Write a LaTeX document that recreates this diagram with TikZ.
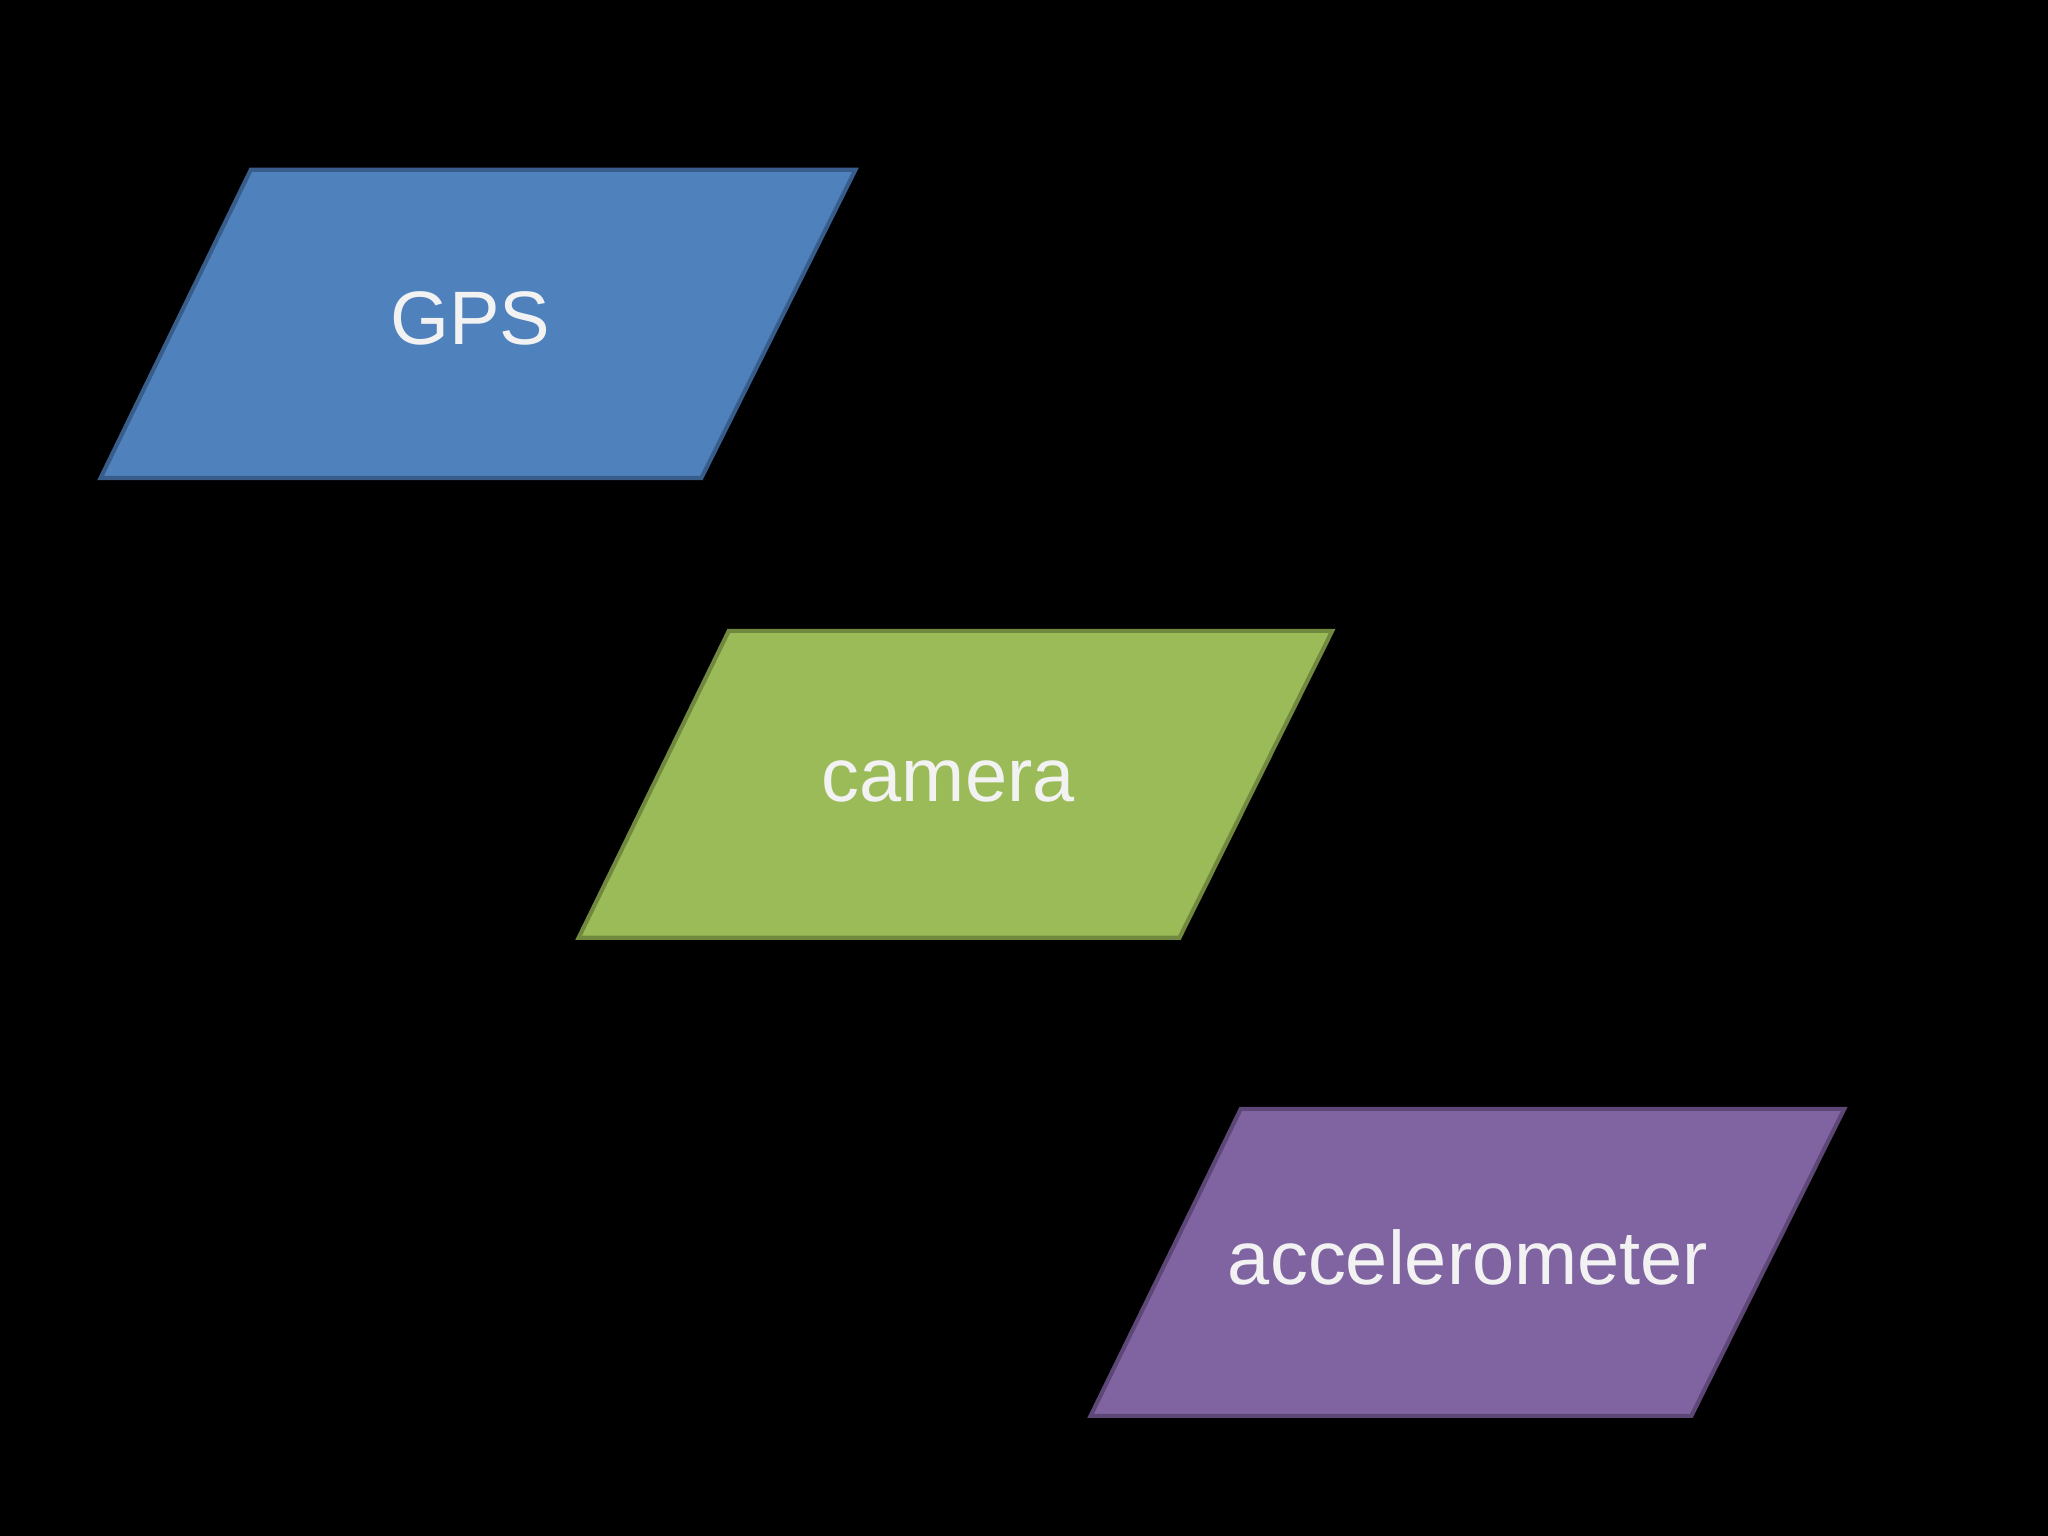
\documentclass[tikz,border=0pt]{standalone}
\usepackage{fontspec}
\setmainfont{Liberation Sans}
\definecolor{gpsfill}{HTML}{4F81BD}\definecolor{gpsline}{HTML}{385D8A}
\definecolor{camfill}{HTML}{9BBB59}\definecolor{camline}{HTML}{71893F}
\definecolor{accfill}{HTML}{8064A2}\definecolor{accline}{HTML}{5C4776}
\definecolor{txt}{HTML}{F2F2F2}
\begin{document}
\begin{tikzpicture}[x=0.01cm,y=-0.01cm,
  para/.style={line width=0.9pt, line join=miter},
  lbl/.style={text=txt, font=\fontsize{16.5}{20}\selectfont}]
\fill[black] (0,0) rectangle (1568,1176);
\useasboundingbox (0,0) rectangle (1568,1176);
\draw[para, fill=gpsfill, draw=gpsline] (192,130) -- (655,130) -- (537,366) -- (77,366) -- cycle;
\node[lbl] (gps) at (360,244) {GPS};
\draw[para, fill=camfill, draw=camline] (558,483) -- (1020,483) -- (903,718) -- (443,718) -- cycle;
\node[lbl] (cam) at (726,598) {camera};
\draw[para, fill=accfill, draw=accline] (950,849) -- (1412,849) -- (1295,1084) -- (835,1084) -- cycle;
\node[lbl] (acc) at (1124,963) {accelerometer};
\end{tikzpicture}
\end{document}
